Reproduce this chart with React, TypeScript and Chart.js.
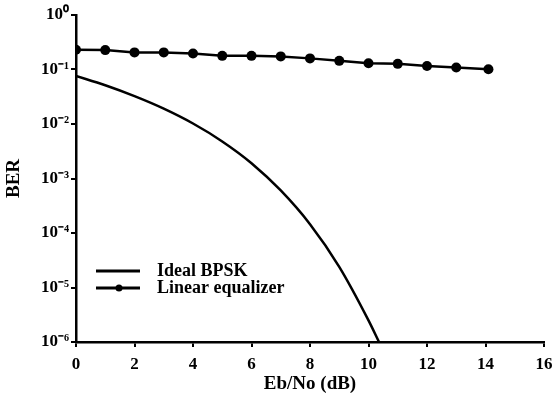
import React, { useEffect, useRef } from "react";
import { Chart, registerables } from "chart.js";

Chart.register(...registerables);

const idealX = [0, 1, 2, 3, 4, 5, 6, 7, 8, 9, 10, 10.36];
const idealBER = [0.0759, 0.0513, 0.0324, 0.0191, 0.0102, 0.00479, 0.00191, 0.000603, 0.000145, 0.000024, 0.0000025, 0.000001];

const eqX = [0, 1, 2, 3, 4, 5, 6, 7, 8, 9, 10, 11, 12, 13, 14.1];
const eqBER = [0.23, 0.227, 0.206, 0.206, 0.197, 0.178, 0.178, 0.174, 0.16, 0.144, 0.13, 0.127, 0.116, 0.109, 0.101];

const xTicks = [0, 2, 4, 6, 8, 10, 12, 14, 16];
const yTicks = [1e-6, 1e-5, 1e-4, 1e-3, 1e-2, 1e-1, 1];

const seriesNames = ["Ideal BPSK", "Linear equalizer"];

const FONT = "'Liberation Serif', 'Times New Roman', serif";

const sup: Record<string, string> = {
  "-": "\u207B", "0": "\u2070", "1": "\u00B9", "2": "\u00B2", "3": "\u00B3",
  "4": "\u2074", "5": "\u2075", "6": "\u2076", "7": "\u2077", "8": "\u2078", "9": "\u2079",
};

const legendPlugin = {
  id: "innerLegend",
  afterDraw(chart: any) {
    const ctx = chart.ctx;
    const rows = [
      { y: 271, marker: false },
      { y: 288, marker: true },
    ];
    ctx.save();
    rows.forEach((r, i) => {
      ctx.strokeStyle = "#000";
      ctx.lineWidth = 3;
      ctx.beginPath();
      ctx.moveTo(96, r.y);
      ctx.lineTo(140, r.y);
      ctx.stroke();
      if (r.marker) {
        ctx.fillStyle = "#000";
        ctx.beginPath();
        ctx.arc(119, r.y, 3.5, 0, Math.PI * 2);
        ctx.fill();
      }
      ctx.fillStyle = "#000";
      ctx.font = `bold 18px ${FONT}`;
      ctx.textBaseline = "middle";
      ctx.textAlign = "left";
      ctx.fillText(chart.data.datasets[i].label, 157, r.y);
    });
    ctx.restore();
  },
};

export default function App() {
  const ref = useRef<HTMLCanvasElement | null>(null);
  useEffect(() => {
    if (!ref.current) return;
    const chart = new Chart(ref.current, {
      type: "line",
      data: {
        datasets: [
          {
            label: seriesNames[0],
            data: idealX.map((x, i) => ({ x, y: idealBER[i] })),
            borderColor: "#000",
            borderWidth: 2.5,
            pointRadius: 0,
            cubicInterpolationMode: "monotone",
            fill: false,
          },
          {
            label: seriesNames[1],
            data: eqX.map((x, i) => ({ x, y: eqBER[i] })),
            borderColor: "#000",
            backgroundColor: "#000",
            borderWidth: 2.5,
            pointRadius: 5,
            pointBorderWidth: 0,
            pointBackgroundColor: "#000",
            tension: 0,
            fill: false,
          },
        ],
      },
      options: {
        animation: false,
        responsive: true,
        maintainAspectRatio: false,
        layout: { padding: { left: 3, top: 15, right: 12, bottom: 5 } },
        plugins: { legend: { display: false }, tooltip: { enabled: false } },
        scales: {
          x: {
            type: "linear",
            min: 0,
            max: 16,
            afterBuildTicks: (s: any) => { s.ticks = xTicks.map((v) => ({ value: v })); },
            afterFit: (s: any) => { s.height = 53; s.paddingRight = 0; s.paddingLeft = 0; },
            grid: { display: true, drawOnChartArea: false, drawTicks: true, tickLength: 5, color: "#000", lineWidth: 2 },
            border: { display: true, color: "#000", width: 2.5 },
            ticks: { color: "#000", font: { family: FONT, size: 17, weight: "bold" }, padding: 7, maxRotation: 0 },
            title: { display: true, text: "Eb/No (dB)", color: "#000", font: { family: FONT, size: 19, weight: "bold" }, padding: 0 },
          },
          y: {
            type: "logarithmic",
            min: 1e-6,
            max: 1,
            afterBuildTicks: (s: any) => { s.ticks = yTicks.map((v) => ({ value: v })); },
            afterFit: (s: any) => { s.width = 73; s.paddingTop = 0; s.paddingBottom = 0; },
            grid: { display: true, drawOnChartArea: false, drawTicks: true, tickLength: 5, color: "#000", lineWidth: 2 },
            border: { display: true, color: "#000", width: 2.5 },
            ticks: {
              color: "#000",
              font: { family: FONT, size: 17, weight: "bold" },
              padding: 2,
              callback: (v: any) => {
                const e = String(Math.round(Math.log10(Number(v))));
                return "10" + e.split("").map((c) => sup[c] || c).join("");
              },
            },
            title: { display: true, text: "BER", color: "#000", font: { family: FONT, size: 19, weight: "bold" }, padding: 0 },
          },
        },
      },
      plugins: [legendPlugin],
    } as any);
    return () => chart.destroy();
  }, []);
  return (
    <div style={{ position: "fixed", left: 0, top: 0, width: 556, height: 400, background: "#fff" }}>
      <canvas ref={ref} />
    </div>
  );
}
